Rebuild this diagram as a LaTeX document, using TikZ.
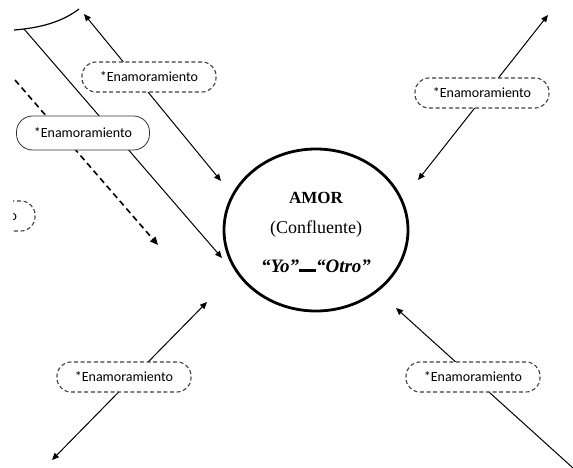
\documentclass[tikz,border=0pt]{standalone}
\usepackage{fontspec}
\setmainfont{Liberation Serif}
\newfontfamily\calib{Carlito}
\usetikzlibrary{arrows.meta,shapes.geometric}
\tikzset{
  enam/.style ={draw=black!75,dash pattern=on 4pt off 2.6pt,line width=1.1pt,
                rounded corners=14pt,fill=white,minimum width=134pt,minimum height=30pt,
                inner sep=2pt,font=\calib\fontsize{14}{16}\selectfont},
  enams/.style={draw=black!80,line width=0.8pt,rounded corners=16pt,fill=white,
                minimum width=133pt,minimum height=34pt,inner sep=2pt,
                font=\calib\fontsize{14}{16}\selectfont},
  amor/.style ={draw,ellipse,line width=2.8pt,minimum width=184pt,minimum height=162pt},
  ar/.style   ={-{Triangle[length=7pt,width=6pt]},line width=1pt},
  ar2/.style  ={{Triangle[length=7pt,width=6pt]}-{Triangle[length=7pt,width=6pt]},line width=1pt},
  da/.style   ={-{Triangle[length=8pt,width=7pt]},line width=1.6pt,dash pattern=on 6pt off 4pt},
  txt/.style  ={inner sep=0pt},
}
\newcommand{\yo}[1]{{\bfseries\itshape #1}}

\begin{document}
\begin{tikzpicture}[x=1pt,y=-1pt]
\useasboundingbox (0,0) rectangle (573,468);
\coordinate (ARC1) at (14,30); \coordinate (ARC2) at (79,9);
\coordinate (A0) at (24,29);   \coordinate (A1) at (222,258);
\coordinate (B0) at (15,80);   \coordinate (B1) at (158,245);
\coordinate (C0) at (84,14);   \coordinate (C1) at (221,181);
\coordinate (D0) at (418,180); \coordinate (D1) at (548,15);
\coordinate (E0) at (52,460);  \coordinate (E1) at (207,302);
\coordinate (F0) at (573,468); \coordinate (F1) at (396,308);
\draw[line width=1.2pt] (ARC1) .. controls (40,28) and (62,22) .. (ARC2);
\draw[ar] (A0) -- (A1);
\draw[da] (B0) -- (B1);
\draw[ar2] (C0) -- (C1);
\draw[ar2] (D0) -- (D1);
\draw[ar2] (E0) -- (E1);
\draw[ar] (F0) -- (F1);
\node[enam] (EN1) at (149,77) {*Enamoramiento};
\node[enams] (EN2) at (83,133) {*Enamoramiento};
\begin{scope}
  \clip (13,190) rectangle (60,245);
  \node[enam] (EN3) at (-32,216) {*Enamoramiento};
\end{scope}
\node[enam] (EN4) at (482,93) {*Enamoramiento};
\node[enam] (EN5) at (124,377) {*Enamoramiento};
\node[enam] (EN6) at (473,377) {*Enamoramiento};
\node[amor] (AM) at (316,230) {};
\node[txt,font=\bfseries\fontsize{17}{20}\selectfont] (AMt) at (316,198) {AMOR};
\node[txt,font=\fontsize{18}{20}\selectfont] (CF) at (316,229) {(Confluente)};
\node[txt,font=\fontsize{19}{22}\selectfont] (YO) at (316,266)
  {\yo{“Yo”}\rule[0.5pt]{17pt}{2.6pt}\yo{“Otro”}};
\end{tikzpicture}
\end{document}
